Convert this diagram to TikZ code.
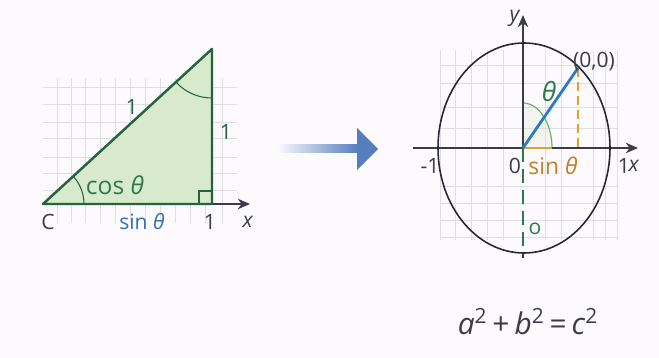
\documentclass[tikz,border=0pt]{standalone}
\usepackage{fontspec}
\setmainfont{Open Sans}
\usepackage{xcolor}
\usetikzlibrary{calc,arrows.meta}
\definecolor{paperwhite}{RGB}{252,250,252}
\definecolor{gridgray}{RGB}{222,222,228}
\definecolor{axisgray}{RGB}{60,60,70}
\definecolor{triline}{RGB}{38,98,62}
\definecolor{trifill}{RGB}{216,234,204}
\definecolor{cosgreen}{RGB}{46,122,76}
\definecolor{sinblue}{RGB}{52,112,180}
\definecolor{radiusblue}{RGB}{42,122,196}
\definecolor{sinorange}{RGB}{224,160,52}
\definecolor{sintext}{RGB}{190,130,40}
\definecolor{anglegreen}{RGB}{110,180,110}
\definecolor{arrowblue}{RGB}{84,126,190}
\definecolor{ringblack}{RGB}{40,40,52}

\begin{document}
\begin{tikzpicture}[x=0.02cm, y=0.02cm, font=\fontsize{12}{14}\selectfont]

% 1. BACKGROUND
\fill[paperwhite] (0,0) rectangle (659,358);
\useasboundingbox (0,0) rectangle (659,358);

% 2. LEFT TRIANGLE
\coordinate (C) at (43,154);
\coordinate (R) at (212,154);
\coordinate (T) at (212,309);
\coordinate (XL) at (250,154);

% Grid
\foreach \gx in {57, 71, 85, 100, 115, 130, 145, 160, 175, 190, 205, 222} {
    \draw[gridgray, line width=0.5pt] (\gx,135) -- (\gx,280);
}
\foreach \gy in {168, 185, 201, 220, 236, 254, 271} {
    \draw[gridgray, line width=0.5pt] (43,\gy) -- (237,\gy);
}

\fill[trifill] (C) -- (R) -- (T) -- cycle;
\draw[axisgray, line width=0.8pt, -{Stealth[length=7pt, width=6pt]}] (C) -- (XL);
\draw[triline, line width=1.4pt, line join=round] (C) -- (R) -- (T) -- cycle;

% Angle marks
\draw[triline, line width=0.6pt] ($(C)+(41,0)$) arc (0:42.5:41);
\draw[triline, line width=0.6pt] ($(T)+(0,-49)$) arc (270:222.5:49);
\draw[triline, line width=0.8pt] (199,154) rectangle (212,167);

% Labels
\node[text=axisgray] (lblC) at (48,136) {C};
\node[text=axisgray] (lblR) at (210,136) {1};
\node[text=axisgray] (lblX) at (248,136) {\textit{x}};
\node[text=sinblue] (lblSin) at (142,136) {sin \textit{θ}};
\node[text=cosgreen, font=\fontsize{14}{16}\selectfont] (lblCos) at (115,173) {cos \textit{θ}};
\node[text=triline] (lblHyp) at (132,251) {1};
\node[text=triline] (lblSide) at (226,226) {1};

% 3. TRANSITION ARROW
\shade[left color=paperwhite, right color=arrowblue] (277,205) rectangle (358,213);
\fill[arrowblue] (357,230) -- (378,209) -- (357,188) -- cycle;

% 4. RIGHT UNIT CIRCLE
\coordinate (O) at (523,210);
\coordinate (P) at (578,290);
\coordinate (Pfoot) at (578,210);
\coordinate (Sfoot) at (552,210);
\coordinate (Bot) at (523,106);

% Grid
\foreach \gx in {440, 455, 471, 487, 503, 545, 561, 593, 605, 617} {
    \draw[gridgray, line width=0.5pt] (\gx,118) -- (\gx,308);
}
\foreach \gy in {121, 138, 155, 172, 230, 251, 275, 293} {
    \draw[gridgray, line width=0.5pt] (440,\gy) -- (617,\gy);
}

% Angle sector
\fill[trifill, opacity=0.3] (O) -- ($(O)+(29,0)$) arc (0:90:29 and 45) -- cycle;
\draw[anglegreen, line width=0.7pt] ($(O)+(29,0)$) arc (0:90:29 and 45);

% Axes
\draw[axisgray, line width=0.8pt, -{Stealth[length=7pt, width=6pt]}] (413,210) -- (638,210);
\draw[axisgray, line width=0.8pt, -{Stealth[length=7pt, width=6pt]}] (O) -- (523,343);
\draw[axisgray, line width=0.8pt] (523,100) -- (Bot);

% Circle
\draw[ringblack, line width=0.9pt] (524,210) ellipse (86 and 105);

% Segments
\draw[sinorange, line width=1.4pt] (O) -- (Sfoot);
\draw[sinorange, line width=1.3pt, dash pattern=on 5pt off 3pt] (P) -- (Pfoot);
\draw[cosgreen, line width=1.1pt, dash pattern=on 8pt off 4pt] (O) -- (Bot);
\draw[radiusblue, line width=1.6pt] (O) -- (P);

% Labels
\node[text=axisgray] (lblY) at (515,340) {\textit{y}};
\node[text=axisgray] (lblOne) at (624,192) {1};
\node[text=axisgray] (lblXR) at (634,192) {\textit{x}};
\node[text=axisgray] (lblMinus) at (430,192) {-1};
\node[text=axisgray] (lblZero) at (515,192) {0};
\node[text=sintext, font=\fontsize{13}{15}\selectfont] (lblSinR) at (553,192) {sin \textit{θ}};
\node[text=cosgreen] (lblO) at (535,129) {o};
\node[text=axisgray] (lblP) at (594,296) {(0,0)};
\node[text=cosgreen, font=\fontsize{15}{17}\selectfont] (lblTheta) at (549,266) {\textit{θ}};

% 5. FORMULA
\node[text=axisgray, font=\fontsize{17}{20}\selectfont] (formula) at (528,36) {\textit{a}\textsuperscript{2}\,+\,\textit{b}\textsuperscript{2}\,=\,\textit{c}\textsuperscript{2}};

\end{tikzpicture}
\end{document}
